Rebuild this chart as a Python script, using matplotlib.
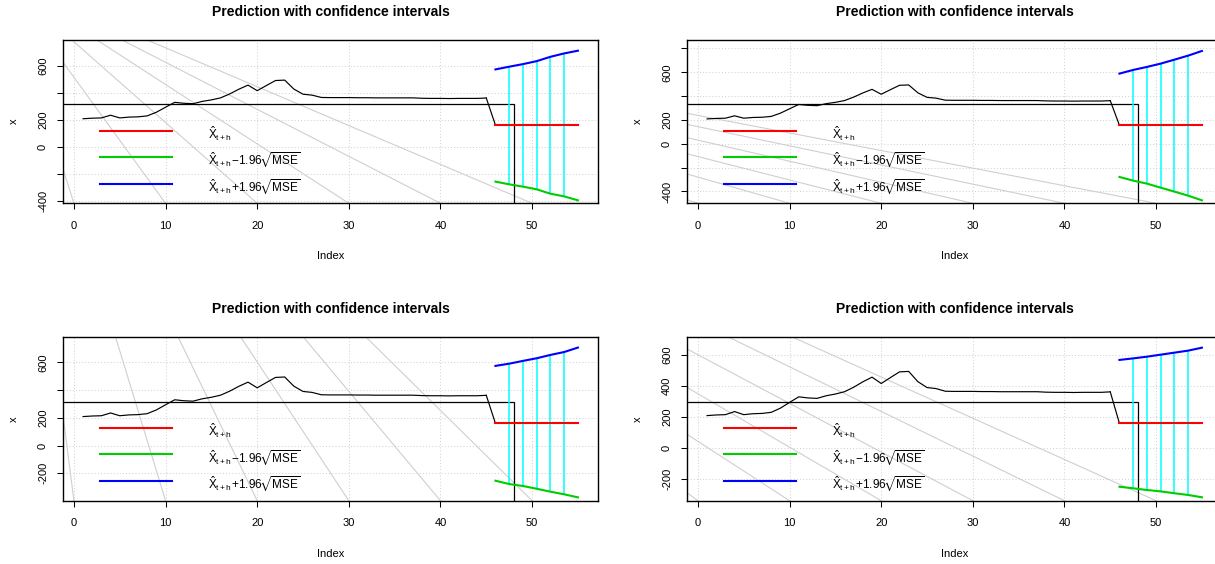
import numpy as np
import matplotlib
matplotlib.use("Agg")
import matplotlib.pyplot as plt
from matplotlib.patches import Rectangle

plt.rcParams["font.family"] = ["Liberation Sans", "DejaVu Sans"]
plt.rcParams["mathtext.fontset"] = "custom"
plt.rcParams["mathtext.rm"] = "Liberation Sans"
plt.rcParams["mathtext.it"] = "Liberation Sans:italic"
plt.rcParams["mathtext.bf"] = "Liberation Sans:bold"
plt.rcParams["mathtext.fallback"] = "stixsans"

# ---- observed series -------------------------------------------------------
index = list(range(1, 46))
series = [209, 213, 215, 235, 215, 221, 223, 230, 257, 294,
          330, 323, 320, 337, 348, 363, 392, 427, 457, 416,
          454, 491, 494, 428, 390, 383, 366, 365, 365, 365,
          364, 364, 363, 363, 363, 363, 363, 360, 359, 359,
          358, 359, 359, 359, 362]

# ---- forecast horizon ------------------------------------------------------
h_index = [46, 47.5, 49, 50.5, 52, 53.5, 55]

pred_1 = [162, 162, 162, 162, 162, 162, 162]
lower_1 = [-255, -275, -292, -312, -344, -364, -393]
upper_1 = [573, 593, 612, 634, 666, 691, 711]

pred_2 = [155, 155, 155, 155, 155, 155, 155]
lower_2 = [-278, -309, -334, -368, -401, -435, -474]
upper_2 = [589, 620, 645, 673, 706, 740, 779]

pred_3 = [160, 160, 160, 160, 160, 160, 160]
lower_3 = [-253, -277, -291, -311, -332, -351, -373]
upper_3 = [574, 590, 610, 629, 653, 674, 706]

pred_4 = [159, 159, 159, 159, 159, 159, 159]
lower_4 = [-250, -260, -271, -280, -292, -303, -318]
upper_4 = [568, 578, 589, 602, 615, 628, 647]

# ---- axes ------------------------------------------------------------------
xticks = [0, 10, 20, 30, 40, 50]
xlim = (-1.16, 57.16)

ylim_1 = (-415, 790)
yticks_1 = [-400, -200, 0, 200, 400, 600]
ylabels_1 = ["-400", "", "0", "200", "", "600"]

ylim_2 = (-499, 871)
yticks_2 = [-400, -200, 0, 200, 400, 600, 800]
ylabels_2 = ["-400", "", "0", "200", "", "600", ""]

ylim_3 = (-397, 780)
yticks_3 = [-200, 0, 200, 400, 600]
ylabels_3 = ["-200", "0", "200", "", "600"]

ylim_4 = (-340, 714)
yticks_4 = [-200, 0, 200, 400, 600]
ylabels_4 = ["-200", "0", "200", "400", "600"]

# apex of the light-grey fan drawn through the x tick marks
fan_1 = (-7.84, 1244)
fan_2 = (-71.4, 1292)
fan_3 = (-7.22, 3323)
fan_4 = (-81.0, 3144)

title = "Prediction with confidence intervals"
legend_labels = [r"$\hat{\mathrm{X}}_{\mathrm{t+h}}$",
                 r"$\hat{\mathrm{X}}_{\mathrm{t+h}}\!-\!1.96\!\sqrt{\mathrm{MSE}}$",
                 r"$\hat{\mathrm{X}}_{\mathrm{t+h}}\!+\!1.96\!\sqrt{\mathrm{MSE}}$"]
legend_colors = ["#ff0000", "#00cd00", "#0000ff"]
legend_y = [0.445, 0.284, 0.121]

W, H = 1215, 564
fig = plt.figure(figsize=(W / 100, H / 100), dpi=100)


def box(left, top, width, height):
    return [left / W, (H - top - height) / H, width / W, height / H]


def draw_panel(ax, pred, lower, upper, ylim, yticks, ylabels, apex):
    ax.set_xlim(*xlim)
    ax.set_ylim(*ylim)
    grid_kw = dict(color="#d3d3d3", lw=0.75, ls=(0, (1, 2)), zorder=0.5)
    for t in xticks:
        ax.axvline(t, **grid_kw)
    for t in yticks:
        ax.axhline(t, **grid_kw)
    for t in xticks:
        ax.axline(apex, (t, ylim[0]), color="#cfcfcf", lw=0.8, zorder=1)

    ax.plot(index, series, color="black", lw=0.85, zorder=2)
    ax.plot([index[-1], h_index[0]], [series[-1], pred[0]],
            color="black", lw=0.85, zorder=2)

    # legend frame
    ax.add_patch(Rectangle((-0.05, -0.05), 0.843 + 0.05, 0.606 + 0.05,
                           transform=ax.transAxes, fill=False,
                           edgecolor="black", lw=0.9, zorder=2))

    ax.vlines(h_index[1:-1], lower[1:-1], upper[1:-1],
              color="#00ffff", lw=1.1, zorder=2.5)
    ax.plot(h_index, pred, color=legend_colors[0], lw=1.5, zorder=3)
    ax.plot(h_index, lower, color=legend_colors[1], lw=1.5, zorder=3)
    ax.plot(h_index, upper, color=legend_colors[2], lw=1.5, zorder=3)

    for y, col, lab in zip(legend_y, legend_colors, legend_labels):
        ax.plot([0.068, 0.204], [y, y], transform=ax.transAxes,
                color=col, lw=1.5, zorder=3)
        ax.annotate(lab, xy=(0.270, y), xycoords="axes fraction",
                    xytext=(0, -3), textcoords="offset pixels",
                    ha="left", va="center", fontsize=8.5)

    ax.set_xticks(xticks)
    ax.set_xticklabels([str(t) for t in xticks])
    ax.set_yticks(yticks)
    ax.set_yticklabels(ylabels, rotation=90, va="center")
    ax.tick_params(axis="both", direction="out", length=4, width=0.75,
                   labelsize=8, colors="black")
    ax.tick_params(axis="x", pad=8.5)
    ax.tick_params(axis="y", pad=7)
    for s in ax.spines.values():
        s.set_linewidth(1.0)
        s.set_color("black")

    ax.annotate(title, xy=(0.5, 1), xycoords="axes fraction",
                xytext=(0, 28), textcoords="offset pixels",
                ha="center", va="center", fontsize=10, fontweight="bold")
    ax.annotate("Index", xy=(0.5, 0), xycoords="axes fraction",
                xytext=(0, -53), textcoords="offset pixels",
                ha="center", va="center", fontsize=8)
    ax.annotate("x", xy=(0, 0.5), xycoords="axes fraction",
                xytext=(-49, 0), textcoords="offset pixels",
                ha="center", va="center", fontsize=8, rotation=90)


panels = [
    (box(63.3, 40.0, 534.4, 163.3), pred_1, lower_1, upper_1, ylim_1, yticks_1, ylabels_1, fan_1),
    (box(687.3, 40.0, 534.4, 163.3), pred_2, lower_2, upper_2, ylim_2, yticks_2, ylabels_2, fan_2),
    (box(63.3, 337.3, 534.4, 163.4), pred_3, lower_3, upper_3, ylim_3, yticks_3, ylabels_3, fan_3),
    (box(687.3, 337.3, 534.4, 163.4), pred_4, lower_4, upper_4, ylim_4, yticks_4, ylabels_4, fan_4),
]

for pos, pred, lower, upper, ylim, yticks, ylabels, apex in panels:
    ax = fig.add_axes(pos)
    draw_panel(ax, pred, lower, upper, ylim, yticks, ylabels, apex)

fig.savefig("out.png", dpi=100, facecolor="white")
